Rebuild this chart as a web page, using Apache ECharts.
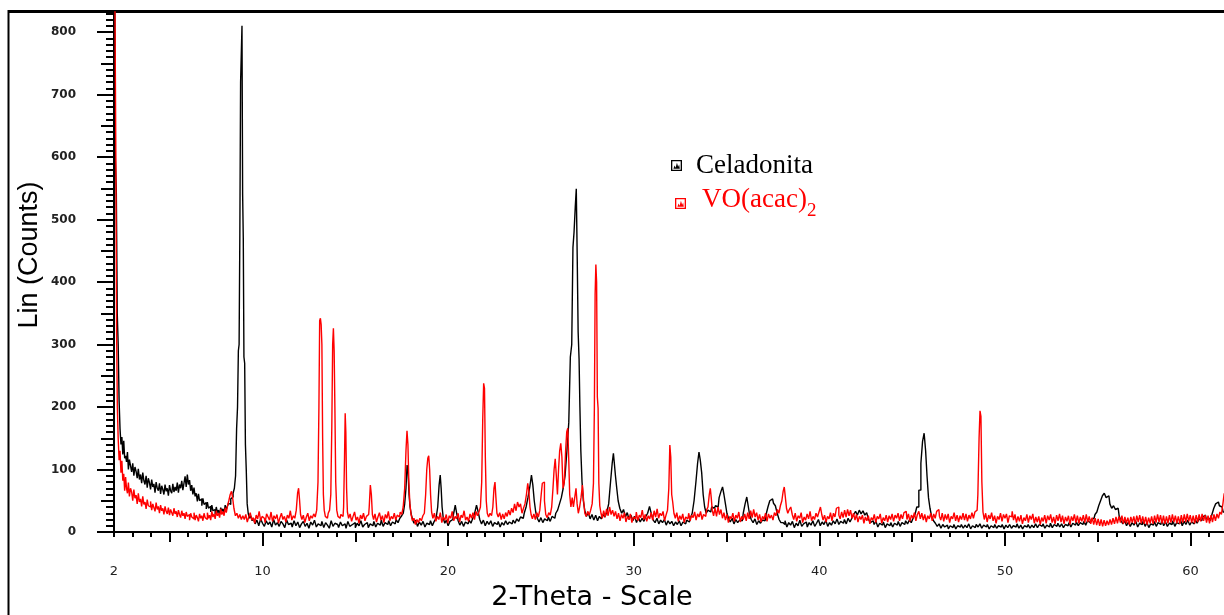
<!DOCTYPE html>
<html>
<head>
<meta charset="utf-8">
<script src="https://cdn.jsdelivr.net/npm/echarts@6/dist/echarts.min.js"></script>
<style>html,body{margin:0;padding:0;background:#fff;}#c{width:1224px;height:615px;}</style>
</head>
<body>
<div id="c"></div>
<script>
const xTickLabels = [2, 10, 20, 30, 40, 50, 60];
const yTickLabels = [0, 100, 200, 300, 400, 500, 600, 700, 800];
const seriesNames = ['Celadonita', 'VO(acac)2'];

// Celadonita: [2-theta, counts]
const celadonita = [
[2.04,900],[2.1,600],[2.15,545],[2.2,350],[2.25,300],[2.3,210],[2.35,165],[2.4,140],[2.45,152],[2.5,124],[2.55,146],[2.6,118],[2.65,122],[2.7,112],[2.75,128],[2.8,100],[2.86,116],[2.92,106],[2.98,96],[3.04,110],[3.1,90],[3.16,104],[3.22,97],[3.28,86],[3.34,101],[3.4,84],[3.46,92],[3.52,78],[3.58,95],[3.64,82],[3.7,76],[3.76,90],[3.82,71],[3.88,86],[3.94,79],[4.0,68],[4.06,84],[4.12,72],[4.18,77],[4.24,63],[4.3,80],[4.36,70],[4.42,66],[4.48,78],[4.54,61],[4.6,74],[4.66,68],[4.72,60],[4.78,76],[4.84,65],[4.9,70],[4.96,58],[5.02,75],[5.08,66],[5.14,62],[5.2,77],[5.26,64],[5.32,72],[5.38,66],[5.44,79],[5.5,63],[5.56,76],[5.62,70],[5.68,82],[5.74,67],[5.8,78],[5.86,89],[5.92,72],[5.98,92],[6.04,76],[6.1,83],[6.16,66],[6.22,75],[6.28,60],[6.34,71],[6.4,57],[6.46,62],[6.52,49],[6.58,61],[6.64,50],[6.7,53],[6.76,42],[6.82,54],[6.88,44],[6.94,47],[7.0,37],[7.06,48],[7.12,38],[7.18,41],[7.24,32],[7.3,43],[7.36,34],[7.42,36],[7.48,29],[7.54,40],[7.6,31],[7.66,35],[7.72,28],[7.78,39],[7.84,33],[7.9,37],[7.96,30],[8.02,43],[8.08,36],[8.14,41],[8.2,46],[8.26,44],[8.32,53],[8.38,56],[8.45,62],[8.52,70],[8.58,90],[8.63,165],[8.68,200],[8.72,290],[8.76,300],[8.8,478],[8.84,720],[8.88,720],[8.91,810],[8.95,540],[8.98,470],[9.02,280],[9.06,270],[9.1,140],[9.15,100],[9.2,45],[9.26,30],[9.33,22],[9.4,26],[9.48,18],
[9.55,22],[9.65,13],[9.75,19],[9.85,10],[9.95,21],[10.05,14],[10.15,9],[10.25,18],[10.35,12],[10.45,16],[10.55,8],[10.65,20],[10.75,11],[10.85,15],[10.95,9],[11.05,17],[11.15,13],[11.25,7],[11.35,19],[11.45,12],[11.55,14],[11.65,8],[11.75,18],[11.85,10],[11.95,16],[12.05,7],[12.15,13],[12.25,17],[12.35,9],[12.45,14],[12.55,6],[12.65,16],[12.75,11],[12.85,19],[12.95,8],[13.05,13],[13.15,10],[13.25,17],[13.35,7],[13.45,15],[13.55,11],[13.65,6],[13.75,18],[13.85,9],[13.95,14],[14.05,12],[14.15,7],[14.25,16],[14.35,10],[14.45,13],[14.55,6],[14.65,17],[14.75,9],[14.85,12],[14.95,15],[15.05,7],[15.15,14],[15.25,10],[15.35,18],[15.45,8],[15.55,12],[15.65,15],[15.75,7],[15.85,13],[15.95,10],[16.05,17],[16.15,8],[16.25,14],[16.35,11],[16.45,19],[16.55,9],[16.65,15],[16.75,12],[16.85,18],[16.95,10],[17.05,16],[17.15,13],[17.25,20],[17.35,15],[17.45,22],[17.55,26],[17.62,30],[17.7,45],[17.76,70],[17.82,107],[17.87,95],[17.92,60],[17.98,40],[18.05,28],[18.12,20],[18.2,14],[18.3,19],[18.4,9],[18.5,16],[18.6,11],[18.7,17],[18.8,8],[18.9,14],[19.0,12],[19.1,18],[19.2,10],[19.3,17],[19.4,22],[19.48,40],[19.55,75],[19.6,91],[19.65,70],[19.7,40],[19.78,22],[19.86,14],[19.95,19],[20.05,10],[20.15,17],[20.25,20],[20.35,30],[20.42,43],[20.5,30],[20.58,18],[20.68,11],[20.78,17],[20.88,9],[20.98,16],[21.08,13],[21.18,19],[21.28,14],[21.38,22],[21.48,30],[21.58,43],[21.66,32],[21.75,20],[21.85,13],[21.95,19],[22.05,10],[22.15,17],[22.25,12],[22.35,18],[22.45,9],[22.55,15],[22.65,12],[22.75,17],[22.85,8],[22.95,15],[23.05,11],[23.15,18],[23.25,12],[23.35,16],[23.45,13],[23.55,19],[23.65,14],[23.75,21],[23.85,17],[23.95,24],[24.05,22],[24.15,30],[24.25,40],[24.35,55],[24.45,72],[24.53,91],[24.6,75],[24.68,50],[24.76,32],[24.85,22],[24.95,16],[25.05,23],[25.15,15],[25.25,21],[25.35,18],[25.45,24],[25.55,17],[25.65,25],[25.75,22],[25.85,30],[25.95,35],[26.05,45],[26.15,55],[26.25,70],[26.35,90],[26.45,130],[26.55,175],[26.62,280],[26.7,300],[26.75,455],[26.82,480],[26.88,520],[26.93,549],[26.98,440],[27.03,320],[27.08,277],[27.12,200],[27.18,130],[27.25,80],[27.32,50],[27.4,35],[27.5,25],
[27.6,31],[27.7,21],[27.8,28],[27.9,19],[28.0,27],[28.1,18],[28.2,25],[28.3,21],[28.4,28],[28.5,24],[28.6,32],[28.7,45],[28.8,80],[28.88,110],[28.93,126],[28.98,110],[29.05,90],[29.12,70],[29.2,50],[29.3,38],[29.4,30],[29.5,36],[29.6,24],[29.7,31],[29.8,20],[29.9,27],[30.0,18],[30.1,25],[30.2,15],[30.3,23],[30.4,16],[30.5,22],[30.6,17],[30.7,25],[30.8,30],[30.9,41],[31.0,29],[31.1,19],[31.2,15],[31.3,22],[31.4,13],[31.5,19],[31.6,15],[31.7,20],[31.8,11],[31.9,18],[32.0,13],[32.1,17],[32.2,10],[32.3,16],[32.4,12],[32.5,18],[32.6,10],[32.7,16],[32.8,13],[32.9,19],[33.0,16],[33.1,22],[33.2,30],[33.3,50],[33.4,80],[33.48,110],[33.55,128],[33.62,115],[33.7,95],[33.78,60],[33.86,40],[33.95,30],[34.05,35],[34.15,32],[34.25,40],[34.35,38],[34.45,42],[34.55,40],[34.65,55],[34.75,65],[34.82,72],[34.9,60],[34.98,45],[35.06,30],[35.15,22],[35.25,16],[35.35,22],[35.45,13],[35.55,20],[35.65,15],[35.75,19],[35.85,18],[35.95,30],[36.05,45],[36.13,56],[36.2,42],[36.28,28],[36.38,20],[36.48,15],[36.58,21],[36.68,12],[36.78,18],[36.88,14],[36.98,19],[37.08,18],[37.18,28],[37.28,40],[37.38,50],[37.48,53],[37.58,46],[37.68,42],[37.78,30],[37.88,20],[37.98,15],
[38.1,12],[38.2,18],[38.3,8],[38.4,15],[38.5,11],[38.6,17],[38.7,7],[38.8,14],[38.9,10],[39.0,19],[39.1,9],[39.2,13],[39.3,16],[39.4,8],[39.5,15],[39.6,11],[39.7,18],[39.8,9],[39.9,14],[40.0,20],[40.1,10],[40.2,16],[40.3,12],[40.4,19],[40.5,9],[40.6,15],[40.7,11],[40.8,18],[40.9,13],[41.0,21],[41.1,12],[41.2,17],[41.3,14],[41.4,20],[41.5,13],[41.6,22],[41.7,16],[41.8,22],[41.9,28],[42.0,33],[42.1,27],[42.2,35],[42.3,29],[42.4,34],[42.5,27],[42.6,31],[42.7,20],[42.8,15],[42.9,18],
[43.0,12],[43.1,17],[43.2,8],[43.3,14],[43.4,11],[43.5,16],[43.6,7],[43.7,13],[43.8,10],[43.9,15],[44.0,8],[44.1,14],[44.2,11],[44.3,17],[44.4,9],[44.5,15],[44.6,12],[44.7,18],[44.8,13],[44.9,19],[45.0,15],[45.1,22],[45.2,28],[45.3,40],[45.42,67],[45.52,110],[45.6,145],[45.69,158],[45.76,130],[45.84,90],[45.92,55],[46.0,38],[46.1,25],[46.2,18],
[46.3,14],[46.4,9],[46.5,13],[46.6,6],[46.7,12],[46.8,8],[46.9,11],[47.0,5],[47.1,10],[47.2,7],[47.3,12],[47.4,5],[47.5,10],[47.6,8],[47.7,12],[47.8,6],[47.9,11],[48.0,7],[48.1,13],[48.2,5],[48.3,10],[48.4,7],[48.5,12],[48.6,8],[48.7,13],[48.8,6],[48.9,11],[49.0,8],[49.1,12],[49.2,5],[49.3,10],[49.4,7],[49.5,12],[49.6,6],[49.7,10],[49.8,8],[49.9,12],[50.0,5],[50.1,11],[50.2,7],[50.3,12],[50.4,6],[50.5,10],[50.6,8],[50.7,13],[50.8,6],[50.9,11],[51.0,5],[51.1,10],[51.2,8],[51.3,12],[51.4,6],[51.5,11],[51.6,7],[51.7,13],[51.8,7],[51.9,12],[52.0,9],[52.1,13],[52.2,6],[52.3,11],[52.4,8],[52.5,14],[52.6,7],[52.7,12],[52.8,9],[52.9,14],[53.0,8],[53.1,13],[53.2,7],[53.3,12],[53.4,10],[53.5,15],[53.6,8],[53.7,14],[53.8,11],[53.9,16],[54.0,10],[54.1,15],[54.2,12],[54.3,17],[54.4,11],[54.5,18],
[54.6,15],[54.7,20],[54.8,22],[54.9,28],[55.0,32],[55.1,42],[55.2,50],[55.3,58],[55.4,62],[55.5,55],[55.6,58],[55.7,45],[55.8,38],[55.9,42],[56.0,36],[56.1,38],[56.2,26],[56.3,18],
[56.4,13],[56.5,18],[56.6,10],[56.7,16],[56.8,9],[56.9,15],[57.0,11],[57.1,17],[57.2,8],[57.3,14],[57.4,12],[57.5,18],[57.6,9],[57.7,15],[57.8,7],[57.9,13],[58.0,11],[58.1,17],[58.2,9],[58.3,15],[58.4,12],[58.5,19],[58.6,10],[58.7,16],[58.8,9],[58.9,14],[59.0,12],[59.1,18],[59.2,9],[59.3,15],[59.4,13],[59.5,20],[59.6,10],[59.7,17],[59.8,12],[59.9,19],[60.0,11],[60.1,16],[60.2,13],[60.3,20],[60.4,14],[60.5,21],
[60.6,18],[60.7,24],[60.8,27],[60.9,20],[61.0,22],[61.1,18],[61.2,28],[61.3,38],[61.4,45],[61.5,48],[61.6,42],[61.7,40],[61.8,32]
];

// VO(acac)2: [2-theta, counts]
const voacac = [
[2.0,950],[2.08,900],[2.12,600],[2.16,320],[2.2,200],[2.25,150],[2.3,115],[2.35,130],[2.4,95],[2.45,114],[2.5,82],[2.55,93],[2.6,66],[2.65,88],[2.7,70],[2.75,62],[2.8,79],[2.86,57],[2.92,70],[2.98,64],[3.04,50],[3.1,68],[3.16,54],[3.22,59],[3.28,45],[3.34,62],[3.4,48],[3.46,53],[3.52,41],[3.58,57],[3.64,44],[3.7,48],[3.76,37],[3.82,52],[3.88,42],[3.94,40],[4.0,49],[4.06,35],[4.12,45],[4.18,39],[4.24,33],[4.3,47],[4.36,36],[4.42,41],[4.48,30],[4.54,43],[4.6,34],[4.66,38],[4.72,28],[4.78,41],[4.84,33],[4.9,29],[4.96,39],[5.02,27],[5.08,36],[5.14,31],[5.2,26],[5.26,38],[5.32,29],[5.38,33],[5.44,24],[5.5,35],[5.56,28],[5.62,23],[5.68,34],[5.74,26],[5.8,30],[5.86,21],[5.92,32],[5.98,25],[6.04,28],[6.1,19],[6.16,30],[6.22,24],[6.28,21],[6.34,31],[6.4,19],[6.46,27],[6.52,23],[6.58,17],[6.64,29],[6.7,22],[6.76,26],[6.82,18],[6.88,30],[6.94,23],[7.0,20],[7.06,31],[7.12,22],[7.18,27],[7.24,19],[7.3,33],[7.36,24],[7.42,29],[7.48,21],[7.54,34],[7.6,26],[7.66,30],[7.72,23],[7.78,37],[7.84,28],[7.9,33],[7.96,26],[8.02,39],[8.08,31],[8.15,42],[8.22,50],[8.3,60],[8.36,65],[8.42,55],[8.5,38],[8.58,26],[8.66,30],[8.74,22],[8.82,28],[8.9,20],[8.98,26],
[9.06,20],[9.14,28],[9.22,16],[9.3,24],[9.38,31],[9.46,19],[9.54,23],[9.62,14],[9.7,27],[9.78,21],[9.86,33],[9.94,18],[10.02,25],[10.1,22],[10.18,15],[10.26,29],[10.34,24],[10.42,19],[10.5,32],[10.58,17],[10.66,26],[10.74,21],[10.82,28],[10.9,14],[10.98,23],[11.06,30],[11.14,20],[11.22,25],[11.3,16],[11.38,27],[11.46,22],[11.54,34],[11.62,19],[11.7,26],[11.78,22],[11.86,35],[11.92,62],[11.97,70],[12.02,52],[12.08,28],
[12.16,20],[12.24,27],[12.32,15],[12.4,24],[12.48,30],[12.56,18],[12.64,26],[12.72,22],[12.8,29],[12.88,24],[12.96,35],[13.02,80],[13.06,200],[13.1,338],[13.14,342],[13.18,332],[13.22,300],[13.26,150],[13.3,60],[13.35,35],[13.42,25],[13.5,22],[13.58,30],[13.65,35],[13.71,60],[13.76,170],[13.8,300],[13.84,326],[13.88,290],[13.92,200],[13.97,80],[14.03,35],[14.1,25],[14.18,22],[14.26,28],[14.34,25],[14.4,40],[14.44,120],[14.47,190],[14.51,160],[14.55,70],[14.6,32],
[14.68,22],[14.76,29],[14.84,17],[14.92,25],[15.0,32],[15.08,19],[15.16,24],[15.24,14],[15.32,27],[15.4,21],[15.48,30],[15.56,18],[15.64,25],[15.72,28],[15.78,40],[15.84,75],[15.89,60],[15.95,28],
[16.02,20],[16.1,29],[16.18,16],[16.26,24],[16.34,31],[16.42,19],[16.5,26],[16.58,15],[16.66,28],[16.74,22],[16.82,33],[16.9,18],[16.98,25],[17.06,21],[17.14,30],[17.22,19],[17.3,27],[17.38,24],[17.46,32],[17.54,28],[17.62,40],[17.7,70],[17.76,130],[17.81,162],[17.86,140],[17.91,80],[17.97,45],[18.04,28],[18.12,18],[18.2,22],[18.28,12],[18.36,20],[18.44,15],[18.52,22],[18.6,18],[18.68,26],[18.76,30],[18.82,60],[18.88,100],[18.93,118],[18.98,122],[19.03,100],[19.08,60],[19.14,32],
[19.22,22],[19.3,30],[19.38,17],[19.46,25],[19.54,20],[19.62,31],[19.7,15],[19.78,24],[19.86,19],[19.94,28],[20.02,14],[20.1,26],[20.18,22],[20.26,33],[20.34,18],[20.42,25],[20.5,21],[20.58,30],[20.66,16],[20.74,27],[20.82,23],[20.9,34],[20.98,19],[21.06,24],[21.14,17],[21.22,29],[21.3,22],[21.38,31],[21.46,20],[21.54,33],[21.62,26],[21.7,32],
[21.78,40],[21.84,80],[21.89,180],[21.94,238],[21.98,230],[22.03,120],[22.08,50],[22.14,30],[22.22,24],[22.3,30],[22.38,26],[22.44,40],[22.5,70],[22.55,80],[22.6,55],[22.66,30],[22.74,24],[22.82,31],[22.9,20],[22.98,29],[23.06,21],[23.14,31],[23.22,25],[23.3,35],[23.38,27],[23.46,38],[23.54,31],[23.62,45],[23.7,34],[23.78,48],[23.86,40],[23.94,45],[24.02,30],[24.1,38],[24.18,45],[24.26,60],[24.32,78],[24.38,65],[24.44,40],[24.5,28],[24.58,21],[24.66,29],[24.74,20],[24.82,31],[24.9,24],[24.98,35],[25.05,60],[25.1,78],[25.16,80],[25.22,50],[25.3,28],[25.38,23],[25.46,31],[25.54,27],[25.62,40],[25.68,70],[25.74,100],[25.8,117],[25.86,90],[25.92,60],[25.98,100],[26.04,130],[26.1,142],[26.16,120],[26.22,70],[26.3,80],[26.36,130],[26.42,160],[26.47,166],[26.52,120],[26.58,60],[26.65,40],[26.72,55],[26.78,40],[26.86,55],[26.92,70],[26.98,45],[27.05,30],[27.12,40],[27.2,55],[27.27,75],[27.33,50],[27.4,30],[27.48,25],[27.56,33],[27.64,27],[27.72,35],[27.8,45],[27.86,78],[27.9,200],[27.94,380],[27.98,428],[28.02,400],[28.06,216],[28.1,198],[28.14,78],[28.2,42],
[28.27,30],[28.34,22],[28.42,34],[28.5,24],[28.58,37],[28.66,26],[28.74,40],[28.82,28],[28.9,35],[28.98,25],[29.06,33],[29.14,21],[29.22,30],[29.3,18],[29.38,28],[29.46,22],[29.54,31],[29.62,16],[29.7,25],[29.78,20],[29.86,29],[29.94,15],[30.02,24],[30.1,21],[30.18,32],[30.26,18],[30.34,27],[30.42,23],[30.5,35],[30.58,20],[30.66,28],[30.74,17],[30.82,26],[30.9,21],[30.98,31],[31.06,19],[31.14,34],[31.22,24],[31.3,37],[31.38,22],[31.46,30],[31.54,26],[31.62,33],[31.7,18],[31.78,27],[31.86,35],[31.92,70],[31.97,139],[32.02,120],[32.07,60],[32.13,48],
[32.2,30],[32.28,22],[32.36,31],[32.44,17],[32.52,26],[32.6,20],[32.68,29],[32.76,15],[32.84,24],[32.92,21],[33.0,30],[33.08,18],[33.16,27],[33.24,23],[33.32,32],[33.4,19],[33.48,29],[33.56,24],[33.64,33],[33.72,20],[33.8,28],[33.88,25],[33.96,35],[34.04,40],[34.1,60],[34.15,70],[34.2,55],
[34.26,35],[34.34,26],[34.42,38],[34.5,25],[34.58,40],[34.66,28],[34.74,36],[34.82,22],[34.9,31],[34.98,19],[35.06,28],[35.14,15],[35.22,25],[35.3,21],[35.38,30],[35.46,17],[35.54,27],[35.62,22],[35.7,32],[35.78,16],[35.86,25],[35.94,20],[36.02,29],[36.1,18],[36.18,31],[36.26,21],[36.34,34],[36.42,23],[36.5,36],[36.58,24],[36.66,31],[36.74,19],[36.82,28],[36.9,16],[36.98,25],[37.06,20],[37.14,30],[37.22,17],[37.3,29],[37.38,22],[37.46,27],[37.54,19],[37.62,31],[37.7,26],[37.78,36],[37.86,30],[37.94,42],[38.02,50],[38.08,65],[38.14,72],[38.2,55],[38.26,38],[38.34,30],[38.42,36],[38.5,40],
[38.58,28],[38.66,20],[38.74,30],[38.82,17],[38.9,26],[38.98,22],[39.06,31],[39.14,15],[39.22,24],[39.3,19],[39.38,29],[39.46,21],[39.54,33],[39.62,18],[39.7,25],[39.78,20],[39.86,30],[39.94,24],[40.02,32],[40.1,40],[40.16,28],[40.24,19],[40.32,27],[40.4,16],[40.48,25],[40.56,21],[40.64,31],[40.72,18],[40.8,30],[40.88,24],[40.96,38],[41.02,40],[41.08,27],[41.16,21],[41.24,32],[41.32,23],[41.4,35],[41.48,24],[41.56,36],[41.64,26],[41.72,35],[41.8,22],[41.88,30],[41.96,19],[42.04,28],[42.12,16],[42.2,25],[42.28,20],[42.36,27],[42.44,14],[42.52,24],[42.6,18],[42.68,26],[42.76,13],[42.84,23],[42.92,19],[43.0,28],[43.08,15],[43.16,25],[43.24,21],[43.32,29],[43.4,14],[43.48,23],[43.56,18],[43.64,27],[43.72,16],[43.8,26],[43.88,20],[43.96,29],[44.04,17],[44.12,27],[44.2,22],[44.28,30],[44.36,18],[44.44,28],[44.52,21],[44.6,31],[44.68,33],[44.76,20],[44.84,29],[44.92,17],[45.0,27],[45.08,22],[45.16,31],[45.24,18],[45.32,28],[45.4,33],[45.48,21],[45.56,30],[45.64,19],[45.72,28],[45.8,16],[45.88,26],[45.96,21],[46.04,30],[46.12,18],[46.2,29],[46.28,22],[46.36,33],[46.44,36],[46.5,25],[46.58,19],[46.66,30],[46.74,17],[46.82,28],[46.9,20],[46.98,29],[47.06,15],[47.14,25],[47.22,21],[47.3,31],[47.38,18],[47.46,27],[47.54,16],[47.62,26],[47.7,20],[47.78,30],[47.86,19],[47.94,29],[48.02,17],[48.1,27],[48.18,21],[48.26,31],[48.34,22],[48.42,32],
[48.5,35],[48.58,60],[48.63,150],[48.68,194],[48.73,185],[48.78,80],[48.85,32],
[48.92,20],[49.0,30],[49.08,16],[49.16,27],[49.24,21],[49.32,31],[49.4,18],[49.48,26],[49.56,14],[49.64,25],[49.72,20],[49.8,30],[49.88,17],[49.96,28],[50.04,22],[50.12,29],[50.2,15],[50.28,26],[50.36,24],[50.42,33],[50.5,19],[50.58,28],[50.66,15],[50.74,25],[50.82,17],[50.9,27],[50.98,13],[51.06,23],[51.14,18],[51.22,28],[51.3,15],[51.38,26],[51.46,20],[51.54,29],[51.62,14],[51.7,24],[51.78,16],[51.86,25],[51.94,12],[52.02,23],[52.1,17],[52.18,27],[52.26,14],[52.34,26],[52.42,19],[52.5,28],[52.58,15],[52.66,24],[52.74,13],[52.82,27],[52.9,18],[52.98,29],[53.06,16],[53.14,26],[53.22,13],[53.3,24],[53.38,17],[53.46,26],[53.54,12],[53.62,25],[53.7,18],[53.78,28],[53.86,15],[53.94,26],[54.02,14],[54.1,24],[54.18,17],[54.26,27],[54.34,15],[54.42,28],[54.5,16],[54.58,25],[54.66,13],[54.74,23],[54.82,12],[54.9,22],[54.98,11],[55.06,21],[55.14,10],[55.22,20],[55.3,9],[55.38,19],[55.46,10],[55.54,18],[55.62,11],[55.7,20],[55.78,12],[55.86,22],[55.94,13],[56.02,24],[56.1,14],[56.18,25],[56.26,15],[56.34,26],[56.42,13],[56.5,24],[56.58,14],[56.66,23],[56.74,12],[56.82,24],[56.9,15],[56.98,25],[57.06,13],[57.14,26],[57.22,16],[57.3,27],[57.38,14],[57.46,25],[57.54,13],[57.62,24],[57.7,12],[57.78,23],[57.86,14],[57.94,25],[58.02,13],[58.1,26],[58.18,15],[58.26,28],[58.34,16],[58.42,27],[58.5,14],[58.58,26],[58.66,13],[58.74,25],[58.82,14],[58.9,27],[58.98,15],[59.06,28],[59.14,16],[59.22,26],[59.3,14],[59.38,25],[59.46,13],[59.54,27],[59.62,15],[59.7,28],[59.78,16],[59.86,29],[59.94,17],[60.02,27],[60.1,15],[60.18,26],[60.26,14],[60.34,27],[60.42,16],[60.5,28],[60.58,17],[60.66,29],[60.74,18],[60.82,27],[60.9,15],[60.98,26],[61.06,14],[61.14,27],[61.22,16],[61.3,28],[61.38,18],[61.46,29],[61.54,22],[61.62,32],[61.7,28],[61.78,45],[61.84,62],[61.9,50]
];

// tick positions derived from the axis ranges
const X_MIN = 2, X_MAX = 61.8, Y_MIN = 0, Y_MAX = 832;
const xMinor = []; for (let v = 2; v <= 61; v++) xMinor.push(v);
const xMid = []; for (let v = 5; v <= 55; v += 10) xMid.push(v);
const xMajor = xTickLabels.filter(v => v % 10 === 0);
const yMinor = []; for (let v = 0; v <= 830; v += 10) yMinor.push(v);
const yMid = []; for (let v = 50; v <= 750; v += 100) yMid.push(v);
const yMajor = yTickLabels.slice();

const chart = echarts.init(document.getElementById('c'), null, {renderer: 'canvas'});

const baseX = {type: 'value', min: X_MIN, max: X_MAX, position: 'bottom', splitLine: {show: false}, gridIndex: 0};
const baseY = {type: 'value', min: Y_MIN, max: Y_MAX, position: 'left', splitLine: {show: false}, gridIndex: 0};
const tickLine = {color: '#000', width: 2};
const icon = 'path://M0,0L10,0L10,10L0,10Z M1.2,1.2L1.2,8.8L8.8,8.8L8.8,1.2Z M2.2,8L3.2,5L4.2,7L5.4,2.6L6.5,6.2L7.4,4.2L8,8Z';

const option = {
  backgroundColor: '#ffffff',
  animation: false,
  grid: {left: 114, right: 0, top: 12, bottom: 83, containLabel: false},
  xAxis: [
    Object.assign({}, baseX, {
      axisLine: {lineStyle: {color: '#000', width: 2}},
      axisTick: {customValues: xMajor, length: 14, lineStyle: tickLine},
      axisLabel: {customValues: xTickLabels, margin: 33, fontSize: 13, fontFamily: 'DejaVu Sans', color: '#222'}
    }),
    Object.assign({}, baseX, {
      axisLine: {show: false},
      axisTick: {customValues: xMid, length: 10, lineStyle: tickLine},
      axisLabel: {show: false}
    }),
    Object.assign({}, baseX, {
      axisLine: {show: false},
      axisTick: {customValues: xMinor, length: 5, lineStyle: tickLine},
      axisLabel: {show: false}
    })
  ],
  yAxis: [
    Object.assign({}, baseY, {
      axisLine: {show: true, lineStyle: {color: '#000', width: 2}},
      axisTick: {show: true, customValues: yMajor, length: 17, lineStyle: tickLine},
      axisLabel: {customValues: yTickLabels, margin: 38, fontSize: 12, fontWeight: 'bold', fontFamily: 'DejaVu Sans', color: '#222'}
    }),
    Object.assign({}, baseY, {
      axisLine: {show: false},
      axisTick: {show: true, customValues: yMid, length: 13, lineStyle: tickLine},
      axisLabel: {show: false}
    }),
    Object.assign({}, baseY, {
      axisLine: {show: false},
      axisTick: {show: true, customValues: yMinor, length: 8, lineStyle: tickLine},
      axisLabel: {show: false}
    })
  ],
  legend: [
    {
      data: [seriesNames[0]], orient: 'vertical', left: 671, top: 152, padding: 0,
      icon: icon, itemWidth: 11, itemHeight: 11,
      formatter: () => '{c|Celadonita}',
      textStyle: {rich: {c: {color: '#000', fontFamily: 'Liberation Serif', fontSize: 27, padding: [0, 0, 0, 9]}}}
    },
    {
      data: [seriesNames[1]], orient: 'vertical', left: 675, top: 186, padding: 0,
      icon: icon, itemWidth: 11, itemHeight: 11,
      formatter: () => '{r|VO(acac)}{s|2}',
      textStyle: {rich: {
        r: {color: '#ff0000', fontFamily: 'Liberation Serif', fontSize: 27, lineHeight: 35, verticalAlign: 'top', padding: [0, 0, 0, 11]},
        s: {color: '#ff0000', fontFamily: 'Liberation Serif', fontSize: 19, lineHeight: 19, verticalAlign: 'bottom'}
      }}
    }
  ],
  graphic: [
    {type: 'line', shape: {x1: 8, y1: 11.5, x2: 1224, y2: 11.5}, style: {stroke: '#000', lineWidth: 3}, silent: true},
    {type: 'line', shape: {x1: 8.5, y1: 10, x2: 8.5, y2: 615}, style: {stroke: '#000', lineWidth: 2}, silent: true},
    {type: 'text', x: 30, y: 255, rotation: Math.PI / 2, silent: true,
      style: {text: 'Lin (Counts)', fill: '#000', font: '27px "Liberation Sans", Arial, sans-serif', align: 'center', verticalAlign: 'middle'}},
    {type: 'text', x: 592, y: 598, silent: true,
      style: {text: '2-Theta - Scale', fill: '#000', font: '27px "DejaVu Sans", sans-serif', align: 'center', verticalAlign: 'middle'}}
  ],
  series: [
    {name: seriesNames[0], type: 'line', step: 'middle', data: celadonita, xAxisIndex: 0, yAxisIndex: 0, showSymbol: false, symbol: 'none',
      lineStyle: {color: '#000000', width: 1.4}, itemStyle: {color: '#000000'}, clip: true, z: 2},
    {name: seriesNames[1], type: 'line', step: 'middle', data: voacac, xAxisIndex: 0, yAxisIndex: 0, showSymbol: false, symbol: 'none',
      lineStyle: {color: '#ff0000', width: 1.4}, itemStyle: {color: '#ff0000'}, clip: true, z: 3}
  ]
};
chart.setOption(option);
</script>
</body>
</html>
